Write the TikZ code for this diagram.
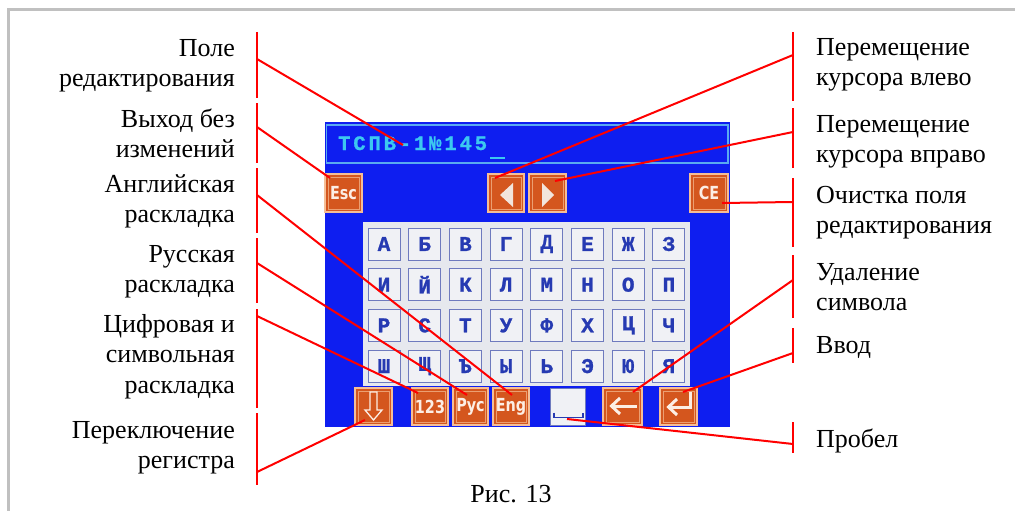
\documentclass[tikz,border=0pt]{standalone}
\usepackage{fontspec}
\setmainfont{Liberation Serif}
\newfontfamily\keyfont{Liberation Mono}[FakeBold=1.2]
\newfontfamily\fieldfont{Liberation Mono}[LetterSpace=14,FakeBold=1]
\newfontfamily\btnfont{DejaVu Sans}[FakeStretch=0.8]

\definecolor{scrblue}{RGB}{14,30,240}
\definecolor{fieldedge}{RGB}{90,170,240}
\definecolor{fieldtxt}{RGB}{60,200,240}
\definecolor{btnfill}{RGB}{212,86,30}
\definecolor{btnedge}{RGB}{245,190,150}
\definecolor{btntxt}{RGB}{252,238,228}
\definecolor{padfill}{RGB}{230,232,238}
\definecolor{keyedge}{RGB}{110,122,190}
\definecolor{keytxt}{RGB}{38,58,178}
\definecolor{callout}{RGB}{255,0,0}
\definecolor{framegray}{RGB}{192,192,192}

\tikzset{
  lbl/.style={inner sep=0pt, font=\fontsize{26}{30.5}\selectfont},
  btn/.style={rectangle, inner sep=0pt, fill=btnfill, draw=btnedge, line width=1.4pt,
    text=btntxt, font=\btnfont\bfseries\fontsize{18}{18}\selectfont,
    path picture={\draw[btnedge!70!btnfill, line width=0.8pt]
      ([shift={(3pt,-3pt)}]path picture bounding box.north west) rectangle
      ([shift={(-3pt,3pt)}]path picture bounding box.south east);}},
  keybox/.style={rectangle, inner sep=0pt, minimum size=32pt, fill=padfill!60!white,
    draw=keyedge, line width=1pt, text=keytxt, font=\keyfont\bfseries\fontsize{21}{21}\selectfont},
  callout/.style={draw=callout, line width=2pt},
  bar/.style={draw=callout, line width=2.5pt},
  glyph/.style={draw=btntxt, line width=3pt},
}

\newcommand\lblL[3]{\node[lbl, anchor=north east, align=right] (#1) at (235,{#2-20}) {\rule{0pt}{20pt}#3};}
\newcommand\lblR[3]{\node[lbl, anchor=north west, align=left] (#1) at (816,{#2-20}) {\rule{0pt}{20pt}#3};}

\begin{document}
\begin{tikzpicture}[x=1pt, y=-1pt]
\useasboundingbox (0,0) rectangle (1015,511);

% page frame
\draw[framegray, line width=3pt] (8,511) -- (8,9.5) -- (1015,9.5);

% screen
\fill[scrblue] (325,122) rectangle (730,427);
\draw[fieldedge, line width=1.2pt] (326.5,125) rectangle (728,163);
\node[anchor=base west, inner sep=0pt, text=fieldtxt,
  font=\fieldfont\bfseries\fontsize{20.5}{20.5}\selectfont] (field) at (338,150) {ТСПВ-1№145};
\draw[fieldtxt, line width=1.6pt] (490,158) -- (505,158);

% top row buttons
\node[btn, minimum width=37pt, minimum height=38pt] (esc) at (343.5,193) {Esc};
\node[btn, minimum width=36pt, minimum height=38pt] (left) at (506,193) {};
\node[btn, minimum width=37pt, minimum height=38pt] (right) at (547.5,193) {};
\node[btn, minimum width=38pt, minimum height=38pt] (ce) at (709,193) {CE};
\fill[btntxt!92!gray] (500,195) -- (513,183) -- (513,207) -- cycle;
\fill[btntxt!92!gray] (542,183) -- (542,207) -- (554,195) -- cycle;

% letter pad
\fill[padfill] (363,222) rectangle (690,386);
\foreach \row [count=\j from 0] in {{А,Б,В,Г,Д,Е,Ж,З},{И,Й,К,Л,М,Н,О,П},{Р,С,Т,У,Ф,Х,Ц,Ч},{Ш,Щ,Ъ,Ы,Ь,Э,Ю,Я}}{
  \foreach \ch [count=\i from 0] in \row {
    \node[keybox] (k\j\i) at ({384+\i*40.7},{244+\j*40.7}) {\ch};
  }
}

% bottom row buttons
\node[btn, minimum width=37pt, minimum height=37pt] (shift) at (373.5,406.5) {};
\node[btn, minimum width=36pt, minimum height=37pt] (num) at (430,406.5) {123};
\node[btn, minimum width=35pt, minimum height=37pt] (rus) at (470.5,406.5) {Рус};
\node[btn, minimum width=36pt, minimum height=37pt] (eng) at (511,406.5) {Eng};
\node[rectangle, inner sep=0pt, minimum width=35pt, minimum height=37pt,
  fill=padfill!60!white, draw=keyedge, line width=1pt] (space) at (567.5,406.5) {};
\node[btn, minimum width=39pt, minimum height=37pt] (bksp) at (622.5,406.5) {};
\node[btn, minimum width=37pt, minimum height=37pt] (enter) at (678.5,406.5) {};

% button glyphs
\draw[draw=btntxt, line width=1.3pt, line join=miter]
  (370,392) -- (370,410) -- (365,410) -- (373.5,420) -- (382,410) -- (377,410) -- (377,392) -- cycle;
\draw[keytxt, line width=1.6pt] (554,412.5) -- (554,417.5) -- (583,417.5) -- (583,412.5);
\draw[glyph, line join=miter] (637,406) -- (612,406);
\draw[glyph, line join=miter] (620,398) -- (611.5,406) -- (620,414);
\draw[glyph, line join=miter] (690,392) -- (690,407) -- (669,407);
\draw[glyph, line join=miter] (677,399) -- (668.5,407) -- (677,415);

% left labels
\lblL{lEdit}{56}{Поле\\редактирования}
\lblL{lEsc}{127}{Выход без\\изменений}
\lblL{lEng}{192}{Английская\\раскладка}
\lblL{lRus}{262}{Русская\\раскладка}
\lblL{lNum}{332}{Цифровая и\\символьная\\раскладка}
\lblL{lShift}{438}{Переключение\\регистра}

% right labels
\lblR{rLeft}{55}{Перемещение\\курсора влево}
\lblR{rRight}{132}{Перемещение\\курсора вправо}
\lblR{rCE}{203}{Очистка поля\\редактирования}
\lblR{rBksp}{280}{Удаление\\символа}
\lblR{rEnter}{353}{Ввод}
\lblR{rSpace}{447}{Пробел}

\node[lbl, anchor=base] (caption) at (511,502) {Рис. 13};

% bracket bars
\foreach \a/\b in {32/98,103/163,168/233,238/303,309/408,413/485}
  \draw[bar] (257,\a) -- (257,\b);
\foreach \a/\b in {32/101,108/168,178/247,255/318,328/363,422/453}
  \draw[bar] (793,\a) -- (793,\b);

% callout end points
\coordinate (pEdit) at (257,59);   \coordinate (tEdit) at (403,145);
\coordinate (pEsc) at (257,127);   \coordinate (tEsc) at (330,178);
\coordinate (pEng) at (257,195);   \coordinate (tEng) at (512,395);
\coordinate (pRus) at (257,263);   \coordinate (tRus) at (467,395);
\coordinate (pNum) at (257,316);   \coordinate (tNum) at (418,393);
\coordinate (pShift) at (257,472); \coordinate (tShift) at (365,420);
\coordinate (pLeft) at (793,55);   \coordinate (tLeft) at (495,178);
\coordinate (pRight) at (793,132); \coordinate (tRight) at (555,181);
\coordinate (pCE) at (793,202);    \coordinate (tCE) at (722,203);
\coordinate (pBksp) at (793,280);  \coordinate (tBksp) at (633,392);
\coordinate (pEnter) at (793,353); \coordinate (tEnter) at (683,392);
\coordinate (pSpace) at (793,444); \coordinate (tSpace) at (567,419);

\foreach \n in {Edit,Esc,Eng,Rus,Num,Shift,Left,Right,CE,Bksp,Enter,Space}
  \draw[callout] (p\n) -- (t\n);
\end{tikzpicture}
\end{document}
